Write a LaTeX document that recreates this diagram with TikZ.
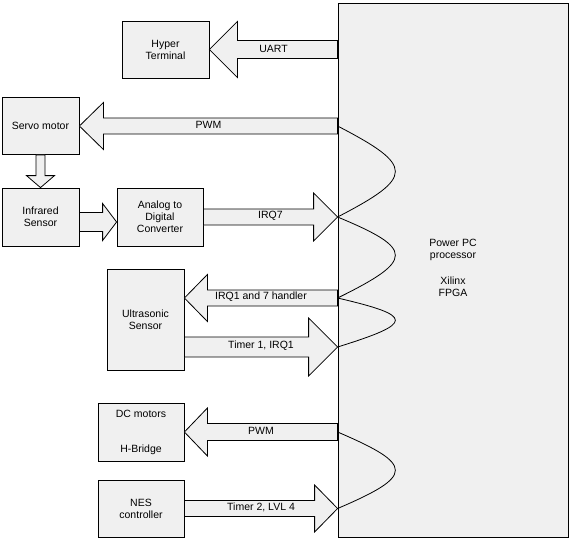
\documentclass[tikz,border=0pt]{standalone}
\usepackage{fontspec}
\setmainfont{Liberation Sans}
\usetikzlibrary{calc}
\definecolor{boxgray}{RGB}{240,240,240}
\tikzset{block/.style={draw,fill=boxgray,line width=.8pt,align=center,inner sep=0pt},
  blockarrow/.style={draw,fill=boxgray,line width=.8pt,line join=miter},
  isr/.style={line width=.8pt}}
% tail, tip, half shaft, half head, head length, label
\newcommand{\blockarrow}[6]{%
  \coordinate (hb) at ($(#2)!#5!(#1)$);
  \draw[blockarrow] ($(#1)!#3!90:(#2)$) -- ($(hb)!#3!90:(#2)$) -- ($(hb)!#4!90:(#2)$) -- (#2)
    -- ($(hb)!#4!-90:(#2)$) -- ($(hb)!#3!-90:(#2)$) -- ($(#1)!#3!-90:(#2)$) -- cycle;
  \if\relax\detokenize{#6}\relax\else\node at ($(#1)!.5!(#2)+(0,-1)$) {#6};\fi}
\begin{document}
\begin{tikzpicture}[x=1pt,y=-1pt,font=\fontsize{10.5}{12}\selectfont]
\useasboundingbox (0,0) rectangle (576,541);
\node[block,minimum width=230pt,minimum height=534pt] (fpga) at (453,270) {};
\node[align=center] (cpu) at (453,268) {Power PC\\processor\\[14pt]Xilinx\\FPGA};
\node[block,minimum width=87pt,minimum height=57pt] (term) at (165.5,49.5) {Hyper\\Terminal};
\node[block,minimum width=77pt,minimum height=57pt] (servo) at (40.5,126) {Servo motor};
\node[block,minimum width=77pt,minimum height=58pt] (ir) at (40.5,217) {Infrared\\Sensor};
\node[block,minimum width=86pt,minimum height=58pt] (adc) at (160,217) {Analog to\\Digital\\Converter};
\node[block,minimum width=77pt,minimum height=101pt] (us) at (145.5,319.5) {Ultrasonic\\Sensor};
\node[block,minimum width=86pt,minimum height=58pt] (dc) at (141,432) {DC motors\\[23pt]H-Bridge};
\node[block,minimum width=86pt,minimum height=57pt] (nes) at (141,508.5) {NES\\controller};
% ends of the block arrows
\coordinate (fuart) at (fpga.west |- term.east); \coordinate (fpwm1) at (fpga.west |- servo.east);
\coordinate (irout) at ($(ir.east)+(0,5)$); \coordinate (adcin) at (adc.west |- irout);
\coordinate (firq7) at (fpga.west |- adc.east);
\coordinate (usin) at ($(us.east)+(0,-21.5)$); \coordinate (firqh) at (fpga.west |- usin);
\coordinate (usout) at ($(us.east)+(0,27.5)$); \coordinate (ftim1) at (fpga.west |- usout);
\coordinate (fpwm2) at (fpga.west |- dc.east); \coordinate (ftim2) at (fpga.west |- nes.east);
\blockarrow{fuart}{term.east}{9pt}{28pt}{28pt}{UART}
\blockarrow{fpwm1}{servo.east}{8pt}{23.5pt}{24pt}{PWM}
\blockarrow{servo.south}{ir.north}{4.5pt}{14pt}{12pt}{}
\blockarrow{irout}{adcin}{9.5pt}{18.5pt}{14pt}{}
\blockarrow{adc.east}{firq7}{8pt}{24pt}{24pt}{IRQ7}
\blockarrow{firqh}{usin}{8pt}{23.5pt}{23pt}{IRQ1 and 7 handler}
\blockarrow{usout}{ftim1}{10pt}{29pt}{29pt}{Timer 1, IRQ1}
\blockarrow{fpwm2}{dc.east}{8.5pt}{24pt}{23pt}{PWM}
\blockarrow{nes.east}{ftim2}{8pt}{23.5pt}{23pt}{Timer 2, LVL 4}
% interrupt loops
\draw[isr] (fpwm1) .. controls +(77,40) and +(77,-40) .. (firq7);
\draw[isr] (firq7) .. controls +(77,32) and +(77,-38) .. (firqh);
\draw[isr] (firqh) .. controls +(77,18) and +(77,-24) .. (ftim1);
\draw[isr] (fpwm2) .. controls +(77,33) and +(77,-33) .. (ftim2);
\end{tikzpicture}
\end{document}
